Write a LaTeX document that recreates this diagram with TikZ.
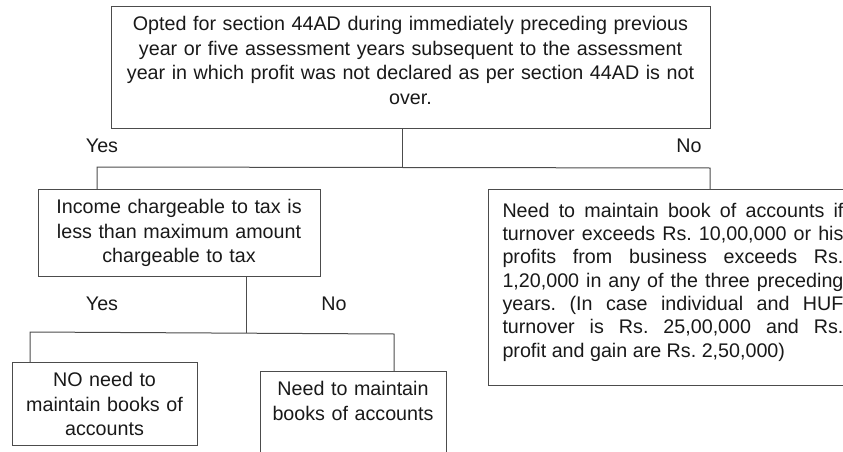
\documentclass[tikz,border=0pt]{standalone}
\usepackage{fontspec}
\setmainfont{Liberation Sans}
\tolerance=10000

\tikzset{
    chartbox/.style={draw=black!70, line width=1pt, text=black!90,
        align=center, inner xsep=5pt, inner ysep=10pt,
        font=\fontsize{19.7}{24.5}\selectfont},
    answer/.style={text=black!90, inner sep=0pt, anchor=base,
        font=\fontsize{19.7}{24.5}\selectfont},
    branch/.style={draw=black!70, line width=1pt},
}

\begin{document}
\begin{tikzpicture}[x=1pt, y=-1pt]
    \useasboundingbox (0,0) rectangle (843,452);
    % first question
    \node[chartbox, anchor=north, text width=589pt, text depth=87.5pt] (opted)
        at (410.5,6) {Opted for section 44AD during immediately preceding previous\\
        year or five assessment years subsequent to the assessment\\
        year in which profit was not declared as per section 44AD is not\\
        over.};
    \node[chartbox, anchor=north, text width=272pt] (income) at (179,189)
        {Income chargeable to tax is\\less than maximum amount\\chargeable to tax};
    \node[chartbox, anchor=north west, align=justify, text width=341pt,
        inner xsep=14pt, inner ysep=13.6pt, text depth=154.4pt,
        font=\fontsize{19.7}{23.3}\selectfont\frenchspacing] (turnover)
        at (488,189) {Need to maintain book of accounts if\linebreak
        turnover exceeds Rs. 10,00,000 or his\linebreak
        profits from business exceeds Rs.\linebreak
        1,20,000 in any of the three preceding\linebreak
        years. (In case individual and HUF\linebreak
        turnover is Rs. 25,00,000 and Rs.\linebreak
        profit and gain are Rs. 2,50,000)};
    % second question
    \node[chartbox, anchor=north, text width=175pt] (nobooks) at (104.5,362)
        {NO need to\\maintain books of\\accounts};
    \node[chartbox, anchor=north, text width=176pt, text depth=90pt] (books)
        at (353,371) {Need to maintain\\books of accounts};
    \node[answer] (yesA) at (102,152) {Yes};
    \node[answer] (noA) at (689,152) {No};
    \node[answer] (yesB) at (102,310) {Yes};
    \node[answer] (noB) at (334,310) {No};
    % branches
    \coordinate (stemA) at (402,167);
    \coordinate (leftA) at (97,167);
    \coordinate (rightA) at (710,168);
    \draw[branch] (opted.south -| stemA) -- (stemA);
    \draw[branch] (leftA |- income.north) -- (leftA) -- (rightA) -- (rightA |- turnover.north);
    \coordinate (stemB) at (246,333);
    \coordinate (leftB) at (30,332);
    \coordinate (rightB) at (394,334);
    \draw[branch] (income.south -| stemB) -- (stemB);
    \draw[branch] (leftB |- nobooks.north) -- (leftB) -- (rightB) -- (rightB |- books.north);
\end{tikzpicture}
\end{document}
